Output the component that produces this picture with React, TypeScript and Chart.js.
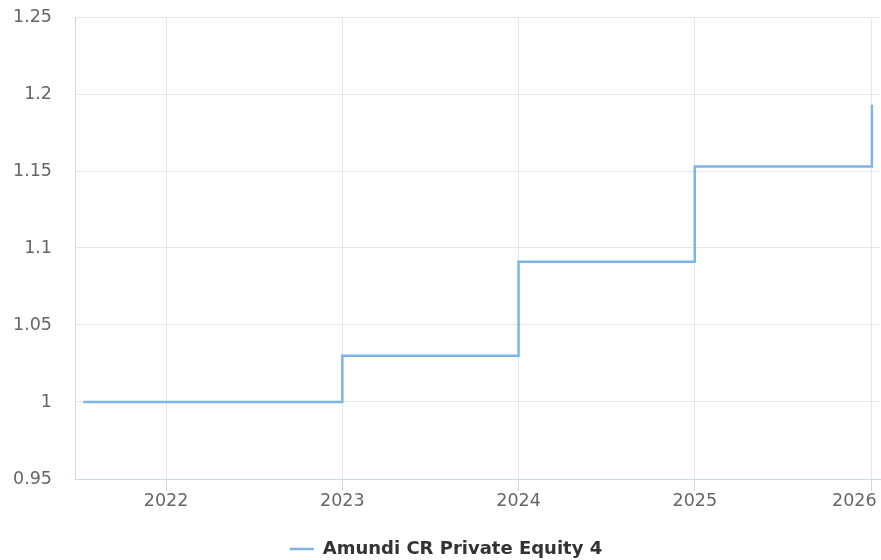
import React, { useEffect, useRef } from 'react';
import { Chart, registerables } from 'chart.js';

Chart.register(...registerables);

const seriesName = 'Amundi CR Private Equity 4';
const dates = [2021.53, 2023.0, 2024.0, 2025.0, 2026.005];
const values = [1.0, 1.03, 1.091, 1.153, 1.193];
const xTicks = [2022, 2023, 2024, 2025, 2026];
const yTicks = [0.95, 1, 1.05, 1.1, 1.15, 1.2, 1.25];

export default function App() {
  const ref = useRef<HTMLCanvasElement | null>(null);

  useEffect(() => {
    if (!ref.current) return;
    const lastTick = xTicks[xTicks.length - 1];
    const legendFix = {
      id: 'legendFix',
      beforeInit(chart: any) {
        const lg = chart.legend;
        if (lg && !lg.__patched) {
          const orig = lg.fit.bind(lg);
          lg.fit = function () {
            orig();
            this.height = 22;
          };
          lg.__patched = true;
        }
      },
    };
    const chart = new Chart(ref.current, {
      type: 'line',
      data: {
        datasets: [
          {
            label: seriesName,
            data: dates.map((x, i) => ({ x, y: values[i] })),
            borderColor: '#7cb5ec',
            backgroundColor: '#7cb5ec',
            borderWidth: 2.5,
            stepped: 'before',
            pointRadius: 0,
            pointHoverRadius: 0,
            fill: false,
            tension: 0,
          },
        ],
      },
      options: {
        responsive: false,
        animation: false,
        layout: { padding: { left: 12, right: 1, top: 17, bottom: 0 } },
        font: { family: 'DejaVu Sans' } as any,
        scales: {
          x: {
            type: 'linear',
            min: 2021.483,
            max: 2026.051,
            afterBuildTicks: (s: any) => {
              s.ticks = xTicks.map((v) => ({ value: v }));
            },
            afterFit: (s: any) => {
              s.height = 59;
              s.paddingLeft = 0;
              s.paddingRight = 0;
            },
            ticks: {
              autoSkip: false,
              maxRotation: 0,
              padding: 0,
              color: '#666666',
              font: { family: 'DejaVu Sans', size: 17.5 },
              callback: (v: any) => (v === lastTick ? String(v) + '      ' : String(v)),
            },
            grid: {
              color: '#e6e6e6',
              lineWidth: 1,
              drawTicks: true,
              tickLength: 12,
              tickColor: '#ccd6eb',
            },
            border: { color: '#ccd6eb', width: 1 },
          },
          y: {
            type: 'linear',
            min: 0.95,
            max: 1.25,
            afterBuildTicks: (s: any) => {
              s.ticks = yTicks.map((v) => ({ value: v }));
            },
            afterFit: (s: any) => {
              s.width = 63;
              s.paddingTop = 0;
              s.paddingBottom = 0;
            },
            ticks: {
              padding: 23,
              color: '#666666',
              font: { family: 'DejaVu Sans', size: 17.5 },
              callback: (v: any) => String(v),
            },
            grid: { color: '#e6e6e6', lineWidth: 1, drawTicks: false },
            border: { color: '#ccd6eb', width: 1 },
          },
        },
        plugins: {
          legend: {
            position: 'bottom',
            labels: {
              usePointStyle: true,
              pointStyle: 'line',
              pointStyleWidth: 24,
              padding: 2,
              color: '#333333',
              font: { family: 'DejaVu Sans', size: 18, weight: 'bold' },
            },
          },
          tooltip: { enabled: false },
        },
      },
      plugins: [legendFix],
    });
    return () => chart.destroy();
  }, []);

  return (
    <div style={{ position: 'absolute', left: 0, top: 0, width: 881, height: 560 }}>
      <canvas ref={ref} width={881} height={560} style={{ display: 'block' }} />
    </div>
  );
}
